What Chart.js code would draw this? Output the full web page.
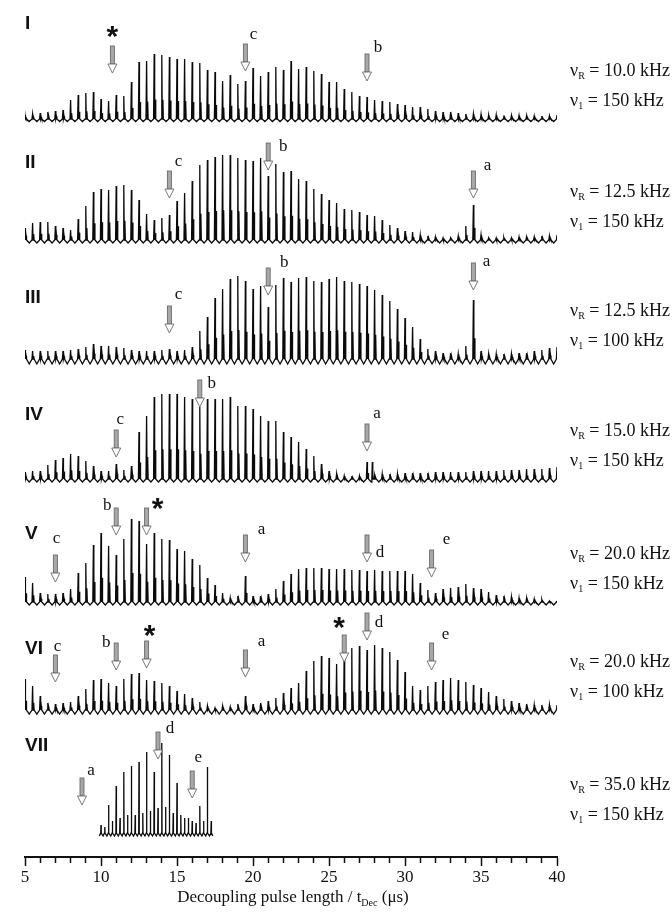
<!DOCTYPE html>
<html>
<head>
<meta charset="utf-8">
<title>Decoupling pulse length series</title>
<script src="https://cdn.jsdelivr.net/npm/chart.js@4.4.0/dist/chart.umd.min.js"></script>
<style>
html, body { margin: 0; padding: 0; background: #fff; }
#wrap { position: relative; width: 672px; height: 918px; }
</style>
</head>
<body>
<div id="wrap"><canvas id="chart" width="672" height="918"></canvas></div>
<script>
'use strict';

// ---- data ----
// peak heights of each spectrum, one every 0.5 us from 5.0 to 40.0 us
var tStart = 5, tStep = 0.5;
var xTickLabels = [5, 10, 15, 20, 25, 30, 35, 40];

var peaksI = [4, 5, 6, 7, 8, 9, 19, 24, 26, 27, 20, 18, 24, 23, 37, 57, 58, 65, 64, 62, 60, 60, 57, 56, 49, 47, 38, 44, 35, 38, 51, 43, 47, 52, 49, 58, 50, 52, 48, 45, 37, 37,
    30, 27, 23, 22, 19, 18, 17, 15, 14, 12, 12, 10, 8, 7, 7, 6, 5, 5, 4.5, 4, 4, 3.5, 3.5, 3.5, 3.5, 3, 3, 3, 4];
var peaksII = [12, 17, 18, 18, 14, 12, 10, 21, 34, 48, 51, 50, 54, 55, 50, 40, 26, 20, 22, 25, 39, 47, 59, 75, 80, 83, 85, 85, 82, 80, 79, 82, 64, 76, 68, 69, 61, 59, 51, 46, 40, 37,
    31, 30, 28, 25, 24, 20, 15, 12, 9, 8, 5, 4, 3, 2, 2, 4, 14, 35, 5, 2, 2, 2, 2, 3, 3, 3, 4, 4, 5];
var peaksIII = [9, 8, 8, 8, 8, 8, 9, 10, 12, 15, 13, 13, 12, 11, 9, 8, 8, 8, 9, 10, 8, 9, 12, 28, 42, 61, 70, 80, 83, 78, 70, 73, 52, 74, 81, 77, 81, 82, 78, 77, 80, 82,
    78, 77, 75, 73, 69, 64, 58, 50, 41, 32, 20, 10, 8, 6, 6, 5, 13, 59, 8, 5, 5, 5, 5, 6, 6, 8, 9, 11, 12];
var peaksIV = [7, 8, 8, 14, 19, 21, 25, 23, 18, 13, 8, 8, 15, 9, 13, 47, 63, 82, 85, 85, 85, 82, 80, 72, 80, 80, 80, 82, 73, 73, 70, 63, 58, 58, 47, 42, 37, 30, 23, 15, 8, 5,
    3, 3, 3, 17, 4, 5, 5, 5, 6, 6, 6, 6, 7, 7, 7, 7, 7, 8, 8, 8, 8, 9, 9, 9, 10, 10, 10, 11, 12];
var peaksV = [25, 19, 9, 8, 8, 9, 13, 29, 39, 57, 69, 56, 47, 63, 83, 81, 58, 69, 63, 62, 53, 51, 43, 37, 24, 17, 9, 4, 6, 26, 6, 6, 8, 13, 21, 28, 33, 34, 34, 34, 33, 33,
    33, 32, 32, 31, 32, 31, 31, 31, 31, 28, 19, 12, 9, 13, 14, 15, 18, 14, 13, 10, 7, 6, 5, 4, 4, 3, 2, 1, 1];
var peaksVI = [31, 24, 14, 7, 6, 7, 8, 14, 21, 30, 31, 27, 24, 31, 36, 37, 30, 29, 27, 24, 19, 16, 12, 8, 4, 2, 4, 3, 6, 14, 6, 7, 9, 12, 17, 22, 27, 39, 49, 54, 52, 46,
    58, 62, 64, 60, 65, 62, 58, 50, 38, 24, 20, 24, 28, 30, 32, 30, 28, 25, 22, 18, 14, 11, 9, 7, 6, 5, 5, 5, 5];
// trace VII is sampled every 0.25 us from 10.0 to 17.25 us
var tStartVII = 10, tStepVII = 0.25;
var peaksVII = [8, 6, 28, 12, 47, 15, 61, 18, 67, 18, 71, 20, 81, 22, 61, 25, 90, 26, 78, 20, 50, 18, 15, 15, 12, 10, 27, 12, 66, 12];
// off-grid extra lines: [t (us), height]
var extraIV = [[27.85, 17]];

var traceNames = ['I', 'II', 'III', 'IV', 'V', 'VI', 'VII'];
var nuR = ['10.0', '12.5', '12.5', '15.0', '20.0', '20.0', '35.0'];
var nu1 = ['150', '150', '100', '150', '150', '100', '150'];

// arrow marks: [trace index, t (us), label, tip height above baseline]
var marks = [
    [0, 10.75, '*', 46], [0, 19.5, 'c', 48], [0, 27.5, 'b', 38],
    [1, 14.5, 'c', 42], [1, 21.0, 'b', 70], [1, 34.5, 'a', 42],
    [2, 14.5, 'c', 26], [2, 21.0, 'b', 64], [2, 34.5, 'a', 69],
    [3, 11.0, 'c', 22], [3, 16.5, 'b', 72], [3, 27.5, 'a', 28],
    [4, 7.0, 'c', 20], [4, 11.0, 'b', 67], [4, 13.0, '*', 67], [4, 19.5, 'a', 40], [4, 27.5, 'd', 40], [4, 31.75, 'e', 25],
    [5, 7.0, 'c', 28], [5, 11.0, 'b', 40], [5, 13.0, '*', 42], [5, 19.5, 'a', 33], [5, 26.0, '*', 48], [5, 27.5, 'd', 70], [5, 31.75, 'e', 40],
    [6, 8.75, 'a', 28], [6, 13.75, 'd', 74], [6, 16.0, 'e', 35]
];

// ---- layout ----
var AXIS_Y = 857;                                  // pixel row of the x axis line
var baselinePx = [119, 240, 359, 479, 602, 710, 833];
var dips = [2.5, 3, 5, 3, 3, 4, 3];
var subRatio = [0.3, 0.35, 0.35, 0.35, 0.35, 0.3, 0];
var labelOffset = {                                // label position relative to arrow top
    '0-*': [0, -14], '0-c': [8, -9], '0-b': [11, -6],
    '1-c': [9, -9], '1-b': [15, 4], '1-a': [14, -5],
    '2-c': [9, -11], '2-b': [16, -5], '2-a': [13, -1],
    '3-c': [4, -10], '3-b': [12, 4], '3-a': [10, -10],
    '4-c': [1, -16], '4-b': [-9, -2], '4-*': [11, -4], '4-a': [16, -5], '4-d': [13, 18], '4-e': [15, -10],
    '5-c': [2, -8], '5-b': [-10, 0], '5-*': [3, -10], '5-a': [16, -8], '5-*2': [-5, -12], '5-d': [12, 10], '5-e': [14, -8],
    '6-a': [9, -7], '6-d': [12, -3], '6-e': [6, -13]
};
var romanX = 25;
var romanY = [24, 163, 298, 415, 534, 649, 746];

var SERIF = '"Liberation Serif", "Times New Roman", serif';
var SANS = '"Liberation Sans", Arial, sans-serif';

function buildTrace(heights, t0, step, base, dip, sub, extras) {
    var pts = [];
    heights.forEach(function(h, i) {
        var t = t0 + i * step;
        pts.push({ x: t - 0.44 * step, y: base - dip });
        pts.push({ x: t - 0.08 * step, y: base });
        pts.push({ x: t, y: base + h });
        pts.push({ x: t + 0.06 * step, y: base });
        if (sub > 0) {
            pts.push({ x: t + 0.14 * step, y: base + h * sub });
            pts.push({ x: t + 0.2 * step, y: base });
        }
    });
    var last = t0 + (heights.length - 1) * step;
    pts.push({ x: last + 0.4 * step, y: base - dip });
    (extras || []).forEach(function(e) {
        pts.push({ x: e[0] - 0.03, y: base });
        pts.push({ x: e[0], y: base + e[1] });
        pts.push({ x: e[0] + 0.03, y: base });
    });
    pts.sort(function(a, b) { return a.x - b.x; });
    return pts;
}

var allPeaks = [peaksI, peaksII, peaksIII, peaksIV, peaksV, peaksVI, peaksVII];
var datasets = allPeaks.map(function(p, k) {
    var base = AXIS_Y - baselinePx[k];
    var isVII = k === 6;
    return {
        label: traceNames[k],
        data: buildTrace(p, isVII ? tStartVII : tStart, isVII ? tStepVII : tStep, base, dips[k], subRatio[k], k === 3 ? extraIV : null),
        borderColor: '#0a0a0a',
        borderWidth: 1.3,
        pointRadius: 0,
        tension: 0,
        fill: false
    };
});

function drawArrow(ctx, x, tipY) {
    var top = tipY - 27;
    ctx.save();
    ctx.lineWidth = 0.9;
    ctx.strokeStyle = '#6a6a6a';
    ctx.fillStyle = '#a8a8a8';
    ctx.fillRect(x - 2, top, 4, 18);
    ctx.strokeRect(x - 2, top, 4, 18);
    ctx.beginPath();
    ctx.moveTo(x - 4.5, tipY - 9);
    ctx.lineTo(x + 4.5, tipY - 9);
    ctx.lineTo(x, tipY);
    ctx.closePath();
    ctx.fillStyle = '#fff';
    ctx.fill();
    ctx.stroke();
    ctx.restore();
    return top;
}

function drawNu(ctx, x, y, sub, rest) {
    ctx.font = '18px ' + SERIF;
    ctx.fillText('\u03bd', x, y);
    var w = ctx.measureText('\u03bd').width;
    ctx.font = '10px ' + SERIF;
    ctx.fillText(sub, x + w, y + 5);
    var w2 = ctx.measureText(sub).width;
    ctx.font = '18px ' + SERIF;
    ctx.fillText(' = ' + rest, x + w + w2, y);
}

var annotatePlugin = {
    id: 'annotate',
    afterDatasetsDraw: function(chart) {
        var ctx = chart.ctx;
        var xs = chart.scales.x, ys = chart.scales.y;
        ctx.save();
        ctx.fillStyle = '#111';
        ctx.textBaseline = 'middle';
        var starCount = {};
        marks.forEach(function(m) {
            var k = m[0];
            var base = AXIS_Y - baselinePx[k];
            var x = xs.getPixelForValue(m[1]);
            var tipY = ys.getPixelForValue(base + m[3]);
            var top = drawArrow(ctx, x, tipY);
            var key = k + '-' + m[2];
            if (m[2] === '*') {
                starCount[k] = (starCount[k] || 0) + 1;
                if (starCount[k] > 1) key += starCount[k];
            }
            var off = labelOffset[key] || [10, -8];
            ctx.textAlign = 'center';
            if (m[2] === '*') {
                ctx.font = 'bold 30px ' + SANS;
                ctx.fillText('*', x + off[0], top + off[1] + 6);
            } else {
                ctx.font = '17px ' + SERIF;
                ctx.fillText(m[2], x + off[0], top + off[1]);
            }
        });
        // roman numerals
        ctx.textAlign = 'left';
        ctx.font = 'bold 19px ' + SANS;
        traceNames.forEach(function(n, k) { ctx.fillText(n, romanX, romanY[k]); });
        // spinning / rf labels
        traceNames.forEach(function(n, k) {
            drawNu(ctx, 570, baselinePx[k] - 48, 'R', nuR[k] + ' kHz');
            drawNu(ctx, 570, baselinePx[k] - 18, '1', nu1[k] + ' kHz');
        });
        // axis title with subscript
        var title1 = 'Decoupling pulse length / t', sub = 'Dec', title2 = ' (\u03bcs)';
        ctx.font = '17px ' + SERIF;
        var w1 = ctx.measureText(title1).width, w3 = ctx.measureText(title2).width;
        ctx.font = '10px ' + SERIF;
        var w2 = ctx.measureText(sub).width;
        var cx = (xs.left + xs.right) / 2 + 2;
        var x0 = cx - (w1 + w2 + w3) / 2;
        ctx.font = '17px ' + SERIF;
        ctx.fillText(title1, x0, 898);
        ctx.font = '10px ' + SERIF;
        ctx.fillText(sub, x0 + w1, 903);
        ctx.font = '17px ' + SERIF;
        ctx.fillText(title2, x0 + w1 + w2, 898);
        ctx.restore();
    }
};

new Chart(document.getElementById('chart'), {
    type: 'line',
    data: { datasets: datasets },
    options: {
        responsive: false,
        animation: false,
        devicePixelRatio: 1,
        layout: { padding: { left: 25, right: 115, top: 0, bottom: 0 } },
        plugins: { legend: { display: false }, tooltip: { enabled: false } },
        scales: {
            x: {
                type: 'linear',
                min: xTickLabels[0],
                max: xTickLabels[xTickLabels.length - 1],
                position: 'bottom',
                afterFit: function(s) { s.height = 918 - AXIS_Y; },
                ticks: {
                    stepSize: 1,
                    autoSkip: false,
                    maxRotation: 0,
                    padding: 1,
                    color: '#111',
                    font: { family: SERIF, size: 17 },
                    callback: function(v) { return xTickLabels.indexOf(v) >= 0 ? String(v) : ''; }
                },
                grid: {
                    drawOnChartArea: false,
                    drawTicks: true,
                    tickLength: 9,
                    tickWidth: 1.5,
                    tickColor: '#111',
                    tickBorderDash: function(c) {
                        return c.tick && xTickLabels.indexOf(c.tick.value) >= 0 ? [] : [5, 30];
                    }
                },
                border: { display: true, color: '#111', width: 2 }
            },
            y: { display: false, min: 0, max: AXIS_Y }
        }
    },
    plugins: [annotatePlugin]
});
</script>
</body>
</html>
